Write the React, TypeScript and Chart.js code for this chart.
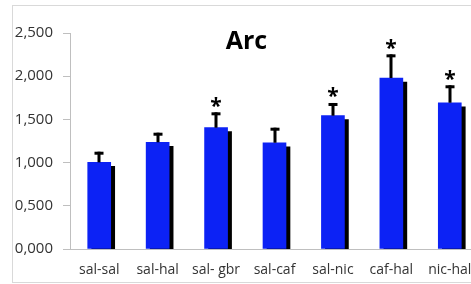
import React, { useEffect, useRef } from "react";
import { Chart, registerables } from "chart.js";

Chart.register(...registerables);

const categories = ["sal-sal", "sal-hal", "sal- gbr", "sal-caf", "sal-nic", "caf-hal", "nic-hal"];
const means = [1.003, 1.235, 1.404, 1.23, 1.543, 1.979, 1.693];
const errors = [0.123, 0.111, 0.178, 0.174, 0.147, 0.274, 0.202];
const significant = [false, false, true, false, true, true, true];
const yTicksMin = 0;
const yTicksMax = 2.5;
const yTicksStep = 0.5;
const titleText = "Arc";

const fmt = (v: number) => v.toFixed(3).replace(".", ",");

const shadowPlugin = {
  id: "barShadow",
  beforeDatasetDraw(chart: any) {
    const ctx = chart.ctx;
    ctx.save();
    ctx.shadowColor = "#000000";
    ctx.shadowOffsetX = 4;
    ctx.shadowOffsetY = 4;
    ctx.shadowBlur = 0;
  },
  afterDatasetDraw(chart: any) {
    chart.ctx.restore();
  },
};

const errorPlugin = {
  id: "errorBars",
  afterDatasetsDraw(chart: any) {
    const ctx = chart.ctx;
    const meta = chart.getDatasetMeta(0);
    const y = chart.scales.y;
    ctx.save();
    ctx.fillStyle = "#000000";
    meta.data.forEach((bar: any, i: number) => {
      const top = y.getPixelForValue(means[i] + errors[i]);
      const x = Math.round(bar.x);
      ctx.fillRect(x - 1.5, top, 3, bar.y - top);
      ctx.fillRect(x - 4.5, top, 9, 3);
      if (significant[i]) {
        ctx.font = "bold 21px 'Open Sans'";
        ctx.textAlign = "center";
        ctx.textBaseline = "alphabetic";
        const m = ctx.measureText("*");
        const asc = m.actualBoundingBoxAscent;
        const desc = m.actualBoundingBoxDescent;
        const cy = top - 10;
        ctx.fillText("*", x, cy + (asc - desc) / 2);
      }
    });
    ctx.font = "bold 25px 'Open Sans'";
    ctx.textAlign = "center";
    ctx.textBaseline = "middle";
    ctx.fillStyle = "#000000";
    ctx.fillText(titleText, 246.5, 42);
    ctx.restore();
  },
};

export default function App() {
  const ref = useRef<HTMLCanvasElement>(null);
  useEffect(() => {
    if (!ref.current) return;
    const chart = new Chart(ref.current, {
      type: "bar",
      data: {
        labels: categories,
        datasets: [
          {
            data: means,
            backgroundColor: "#0c22f5",
            borderWidth: 0,
            barThickness: 23,
          },
        ],
      },
      options: {
        responsive: false,
        animation: false,
        devicePixelRatio: 1,
        layout: { padding: { top: 33, right: 11, bottom: 0, left: 0 } },
        plugins: { legend: { display: false }, tooltip: { enabled: false }, title: { display: false } },
        scales: {
          x: {
            grid: { display: false, drawTicks: false },
            border: { display: true, color: "#bfbfbf", width: 1 },
            ticks: { color: "#333333", font: { family: "'Open Sans'", size: 14 }, padding: 13, maxRotation: 0, autoSkip: false },
            afterFit: (s: any) => { s.height = 35; },
          },
          y: {
            min: yTicksMin,
            max: yTicksMax,
            grid: { display: true, drawOnChartArea: false, drawTicks: true, tickLength: 7, color: "#bfbfbf" },
            border: { display: true, color: "#bfbfbf", width: 1 },
            ticks: {
              stepSize: yTicksStep,
              color: "#333333",
              font: { family: "'Open Sans'", size: 15 },
              padding: 10,
              callback: (v: any) => fmt(Number(v)),
            },
            afterFit: (s: any) => { s.width = 70; },
          },
        },
      },
      plugins: [shadowPlugin, errorPlugin],
    });
    return () => chart.destroy();
  }, []);
  return (
    <div style={{ position: "fixed", left: 0, top: 0, width: 471, height: 284, overflow: "hidden", background: "#fff" }}>
      <div style={{ position: "absolute", left: 12, top: 5, width: 480, height: 276, border: "1px solid #d9d9d9" }} />
      <canvas ref={ref} width={490} height={284} style={{ position: "absolute", left: 0, top: 0 }} />
    </div>
  );
}
